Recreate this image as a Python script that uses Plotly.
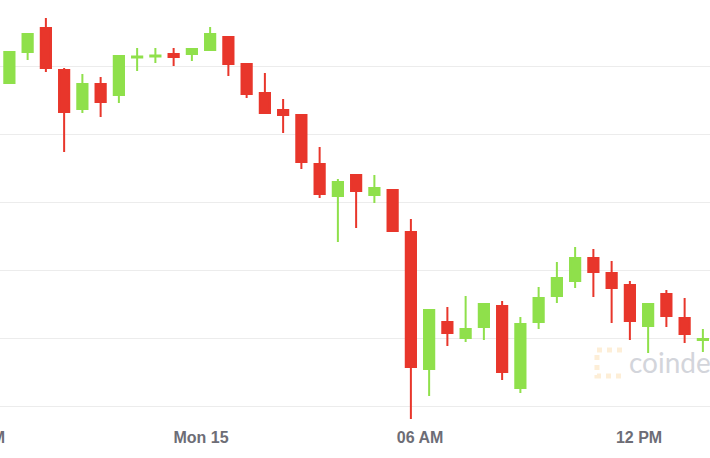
import pandas as pd
import plotly.graph_objects as go

# 30-minute BTC candles (centre times), Mar 14 18:45 -> Mar 15 13:45
times = pd.date_range("2021-03-14 18:45", periods=39, freq="30min")

opens = [59750, 60206, 60559, 59941, 59368, 59735, 59574, 60125, 60140, 60177,
         60177, 60235, 60427, 60029, 59603, 59353, 59279, 58559, 58088, 58397,
         58103, 58177, 57559, 55544, 56235, 56000, 56162, 56471, 55265, 56235,
         56618, 56838, 57177, 56956, 56779, 56177, 56647, 56294, 55971]
highs = [60221, 60471, 60706, 59971, 59882, 59838, 60162, 60265, 60265, 60265,
         60250, 60574, 60427, 60029, 59897, 59515, 59279, 58809, 58338, 58397,
         58397, 58177, 57750, 56412, 56456, 56618, 56515, 56544, 56309, 56750,
         57118, 57338, 57309, 57132, 56838, 56500, 56706, 56588, 56132]
lows = [59735, 60088, 59912, 58735, 59309, 59250, 59456, 59927, 60044, 60000,
        60074, 60235, 59853, 59529, 59309, 59015, 58485, 58059, 57412, 57618,
        57985, 57559, 54809, 55147, 55882, 55941, 55971, 55382, 55191, 56132,
        56515, 56735, 56603, 56221, 55971, 55779, 56162, 55927, 55794]
closes = [60206, 60471, 59971, 59324, 59735, 59471, 60147, 60140, 60154, 60132,
          60250, 60471, 60029, 59588, 59309, 59279, 58588, 58118, 58294, 58162,
          58206, 57574, 55574, 56412, 56074, 56132, 56500, 55500, 56206, 56588,
          56882, 57177, 56971, 56735, 56250, 56500, 56324, 56059, 55985]

tick_vals = ["2021-03-14 18:00", "2021-03-15 00:00", "2021-03-15 06:00", "2021-03-15 12:00"]
tick_text = ["06 PM", "Mon 15", "06 AM", "12 PM"]
y_grid = [55000, 56000, 57000, 58000, 59000, 60000]

GREEN = "#8FE04B"
RED = "#E8362B"

# the chart is a crop of a wider one: draw 40px more on the left and slide it out of view
SHIFT = 40
W = 710 + SHIFT
PLOT_H = 424

fig = go.Figure(go.Candlestick(
    x=times, open=opens, high=highs, low=lows, close=closes,
    increasing=dict(line=dict(color=GREEN, width=2), fillcolor=GREEN),
    decreasing=dict(line=dict(color=RED, width=2), fillcolor=RED),
    whiskerwidth=0, showlegend=False, hoverinfo="skip",
))

fig.update_layout(
    width=W, height=458,
    margin=dict(l=0, r=0, t=0, b=458 - PLOT_H),
    paper_bgcolor="white", plot_bgcolor="white",
    boxgap=0.2,
    font=dict(family="Liberation Sans, Arial, sans-serif"),
    xaxis=dict(
        range=["2021-03-14 17:23:50", "2021-03-15 13:56:42"],
        rangeslider=dict(visible=False),
        showgrid=False, zeroline=False, showline=False, ticks="",
        tickvals=tick_vals, ticktext=tick_text,
        tickfont=dict(size=16, color="#6d6d76", weight="bold"),
        ticklabelstandoff=2,
        ticklabeloverflow="allow",
    ),
    yaxis=dict(
        range=[54735.3, 60970.6],
        tickvals=y_grid, showticklabels=False,
        showgrid=True, gridcolor="#ececec", gridwidth=1,
        zeroline=False, showline=False, ticks="",
    ),
)

# coindesk watermark
fig.add_annotation(
    text="coindesk", xref="paper", yref="paper", x=(627 + SHIFT) / W, y=1 - 362 / PLOT_H,
    xanchor="left", yanchor="middle", showarrow=False,
    font=dict(family="Lato", size=28, color="#d3d5db"),
)
px = lambda v: (v + SHIFT) / W
py = lambda v: 1 - v / PLOT_H
fig.add_shape(
    type="path", xref="paper", yref="paper", layer="below",
    path="M %f %f L %f %f L %f %f L %f %f" % (px(622), py(350), px(597), py(350),
                                               px(597), py(376), px(622), py(376)),
    line=dict(color="rgba(250,205,140,0.35)", width=5, dash="dot"),
)

fig.write_html(
    "out.html",
    config={"displayModeBar": False},
    post_script=(
        "document.body.style.margin='0';"
        "document.body.style.overflow='hidden';"
        "document.getElementById('{plot_id}').style.marginLeft='-%dpx';" % SHIFT
    ),
)
